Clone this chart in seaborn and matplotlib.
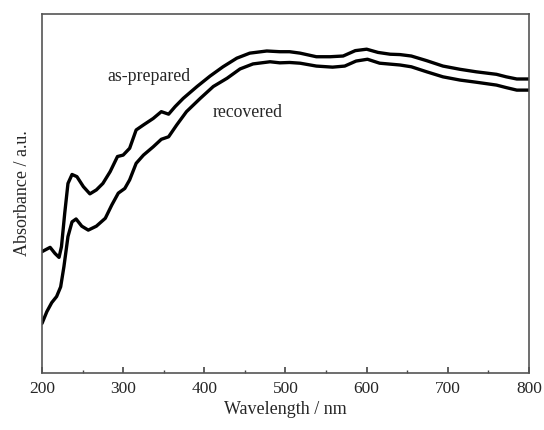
import matplotlib
matplotlib.use("Agg")
import matplotlib.pyplot as plt
from matplotlib.ticker import MultipleLocator
import seaborn as sns
import pandas as pd

wl_prepared = [200, 210, 216, 221, 224, 228, 232, 237, 243, 251, 259, 267, 275, 284, 293,
               300, 308, 316, 325, 337, 347, 356, 364, 374, 391, 407, 423, 440, 456, 477,
               493, 505, 518, 538, 555, 571, 586, 600, 614, 629, 641, 655, 674, 694, 715,
               735, 760, 772, 785, 800]
abs_prepared = [0.338, 0.350, 0.333, 0.322, 0.352, 0.445, 0.528, 0.553, 0.547, 0.519, 0.499,
                0.510, 0.528, 0.561, 0.603, 0.607, 0.626, 0.677, 0.691, 0.709, 0.728, 0.721,
                0.742, 0.765, 0.798, 0.827, 0.853, 0.877, 0.891, 0.897, 0.895, 0.895, 0.891,
                0.881, 0.881, 0.883, 0.898, 0.902, 0.893, 0.888, 0.887, 0.883, 0.870, 0.855,
                0.846, 0.839, 0.832, 0.825, 0.819, 0.819]

wl_recovered = [200, 206, 212, 218, 223, 227, 232, 237, 242, 249, 257, 267, 278, 286, 294,
                302, 308, 316, 325, 337, 347, 356, 366, 378, 395, 411, 428, 444, 460, 481,
                493, 505, 518, 538, 558, 573, 587, 601, 616, 631, 641, 655, 674, 694, 715,
                735, 760, 772, 785, 800]
abs_recovered = [0.138, 0.171, 0.196, 0.213, 0.240, 0.296, 0.380, 0.421, 0.429, 0.409, 0.398,
                 0.409, 0.431, 0.468, 0.501, 0.514, 0.538, 0.584, 0.607, 0.630, 0.651, 0.658,
                 0.691, 0.728, 0.765, 0.798, 0.821, 0.847, 0.861, 0.867, 0.864, 0.865, 0.863,
                 0.855, 0.852, 0.855, 0.869, 0.874, 0.863, 0.860, 0.858, 0.853, 0.839, 0.825,
                 0.816, 0.810, 0.802, 0.795, 0.788, 0.788]

xticks = [200, 300, 400, 500, 600, 700, 800]

sns.set_theme(style="white")
plt.rcParams['font.family'] = ['Liberation Serif', 'DejaVu Serif']

df = pd.concat([
    pd.DataFrame({"wl": wl_prepared, "A": abs_prepared, "sample": "as-prepared"}),
    pd.DataFrame({"wl": wl_recovered, "A": abs_recovered, "sample": "recovered"}),
])

fig = plt.figure(figsize=(5.44, 4.30), dpi=100)
ax = fig.add_axes([0.0772, 0.1326, 0.8952, 0.8348])
sns.lineplot(data=df, x="wl", y="A", units="sample", estimator=None, color="black",
             linewidth=2.4, ax=ax, legend=False)
for ln in ax.lines:
    ln.set_solid_joinstyle("round")
    ln.set_solid_capstyle("round")

ax.set_xlim(200, 800)
ax.set_ylim(0, 1)
ax.set_xticks(xticks)
ax.xaxis.set_minor_locator(MultipleLocator(50))
ax.set_yticks([])
ax.tick_params(axis="x", which="major", direction="in", length=4, width=1.2,
               color="#444444", labelsize=12.5, pad=6, bottom=True, top=False)
ax.tick_params(axis="x", which="minor", direction="in", length=2.5, width=1.0,
               color="#444444", bottom=True, top=False)
for s in ax.spines.values():
    s.set_color("#555555")
    s.set_linewidth(1.2)

ax.set_xlabel("Wavelength / nm", fontsize=13, labelpad=3)
ax.set_ylabel("Absorbance / a.u.", fontsize=13, labelpad=8)

ax.text(332, 0.827, "as-prepared", fontsize=12.8, ha="center", va="center")
ax.text(454, 0.727, "recovered", fontsize=12.8, ha="center", va="center")

fig.savefig("out.png", dpi=100, facecolor="white")
